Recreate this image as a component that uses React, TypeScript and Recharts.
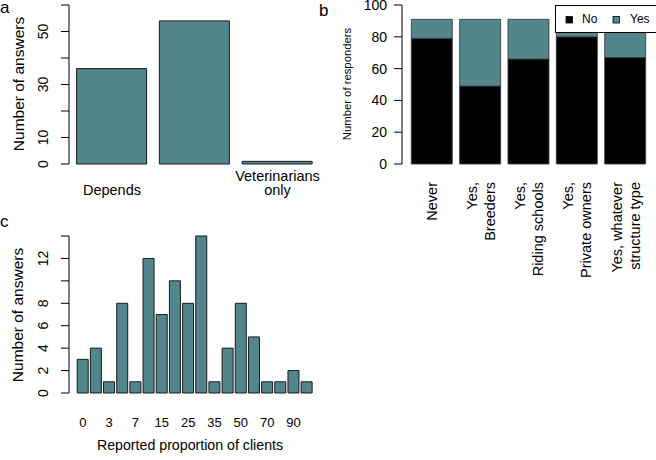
import { BarChart, Bar, XAxis, YAxis } from 'recharts';

const TEAL = '#53868B';
const FONT = '"Liberation Sans", Arial, Helvetica, sans-serif';

// panel a
const adviceCategories = ['Depends', '', 'Veterinarians\nonly'];
const adviceCounts = [36, 54, 1];
const adviceTicks = [0, 10, 20, 30, 40, 50, 60];
const adviceTickLabels = [0, 10, 30, 50];

// panel b
const structureCategories = [
  'Never',
  'Yes,\nBreeders',
  'Yes,\nRiding schools',
  'Yes,\nPrivate owners',
  'Yes, whatever\nstructure type',
];
const structureNo = [79, 49, 66, 80, 67];
const structureYes = [12, 42, 25, 11, 24];
const structureTicks = [0, 20, 40, 60, 80, 100];
const structureSeries = [
  { key: 'No', color: '#000000' },
  { key: 'Yes', color: TEAL },
];

// panel c
const proportionCategories = ['0', '1', '3', '5', '7', '10', '15', '20', '25', '30', '35', '40', '50', '60', '70', '80', '90', '100'];
const proportionCounts = [3, 4, 1, 8, 1, 12, 7, 10, 8, 14, 1, 4, 8, 5, 1, 1, 2, 1];
const proportionTicks = [0, 2, 4, 6, 8, 10, 12, 14];
const proportionTickLabels = [0, 2, 4, 6, 8, 12];

const adviceData = adviceCategories.map((name, i) => ({ name, value: adviceCounts[i] }));
const structureData = structureCategories.map((name, i) => ({ name, No: structureNo[i], Yes: structureYes[i] }));
const proportionData = proportionCategories.map((name, i) => ({ name, value: proportionCounts[i] }));

function RotatedYTick({ y, payload, labels }: any) {
  if (!labels.includes(Number(payload.value))) return null;
  return (
    <text x={43} y={y} transform={`rotate(-90 43 ${y})`} textAnchor="middle" dominantBaseline="central"
      fontSize={14} fontFamily={FONT} fill="#000">
      {payload.value}
    </text>
  );
}

function AdviceXTick({ x, payload }: any) {
  const lines = String(payload.value).split('\n');
  return (
    <g>
      {lines.map((l, i) => (
        <text key={i} x={x} y={195 - (lines.length - 1 - i) * 14.5} textAnchor="middle"
          fontSize={14.5} fontFamily={FONT} fill="#000">
          {l}
        </text>
      ))}
    </g>
  );
}

function StructureXTick({ x, payload }: any) {
  const lines = String(payload.value).split('\n');
  return (
    <g>
      {lines.map((l, i) => {
        const lx = x + (i - (lines.length - 1) / 2) * 18 + 1;
        return (
          <text key={i} x={lx} y={182} transform={`rotate(-90 ${lx} 182)`} textAnchor="end"
            dominantBaseline="central" fontSize={14.5} fontFamily={FONT} fill="#000">
            {l}
          </text>
        );
      })}
    </g>
  );
}

function ProportionXTick({ x, payload }: any) {
  return (
    <text x={x} y={202} textAnchor="middle" fontSize={13} fontFamily={FONT} fill="#000">
      {payload.value}
    </text>
  );
}

export default function App() {
  return (
    <div style={{ position: 'absolute', left: 0, top: 0, width: 656, height: 460, overflow: 'hidden', background: '#fff' }}>
      <div style={{ position: 'absolute', left: 0, top: 0 }}>
        <BarChart width={320} height={210} data={adviceData} margin={{ top: 5, right: 0, bottom: 0, left: 0 }}>
          <XAxis dataKey="name" axisLine={false} tickLine={false} height={46} padding={{ left: 1.6, right: 1.1 }}
            interval={0} tick={<AdviceXTick />} />
          <YAxis width={69} domain={[0, 60]} ticks={adviceTicks} interval={0} tickSize={8} stroke="#000"
            tick={<RotatedYTick labels={adviceTickLabels} />} />
          <Bar dataKey="value" fill={TEAL} stroke="#1a1a1a" strokeWidth={1} barSize={70} isAnimationActive={false} />
        </BarChart>
      </div>

      <div style={{ position: 'absolute', left: 320, top: 0 }}>
        <BarChart width={336} height={290} data={structureData} margin={{ top: 5, right: 2, bottom: 0, left: 0 }}>
          <XAxis dataKey="name" axisLine={false} tickLine={false} height={126} padding={{ left: 5.3, right: 5 }}
            interval={0} tick={<StructureXTick />} />
          <YAxis width={82} domain={[0, 100]} ticks={structureTicks} interval={0} tickSize={8} tickMargin={7} stroke="#000"
            tick={{ fill: '#000', fontSize: 14, fontFamily: FONT }} />
          {structureSeries.map((s) => (
            <Bar key={s.key} dataKey={s.key} stackId="s" fill={s.color} stroke="#333" strokeWidth={0.8}
              barSize={41} isAnimationActive={false} />
          ))}
        </BarChart>
      </div>

      <div style={{ position: 'absolute', left: 0, top: 225 }}>
        <BarChart width={330} height={235} data={proportionData} margin={{ top: 11, right: 10, bottom: 0, left: 0 }}>
          <XAxis dataKey="name" axisLine={false} tickLine={false} height={67} padding={{ left: 7.2, right: 6.7 }}
            interval={1} tick={<ProportionXTick />} />
          <YAxis width={69} domain={[0, 14]} ticks={proportionTicks} interval={0} tickSize={8} stroke="#000"
            tick={<RotatedYTick labels={proportionTickLabels} />} />
          <Bar dataKey="value" fill={TEAL} stroke="#1a1a1a" strokeWidth={1} barSize={11} isAnimationActive={false} />
        </BarChart>
      </div>

      <svg width={656} height={460} style={{ position: 'absolute', left: 0, top: 0, pointerEvents: 'none' }}
        fontFamily={FONT}>
        <text x={0} y={13} fontSize={17}>a</text>
        <text x={319} y={16} fontSize={17}>b</text>
        <text x={0} y={227} fontSize={17}>c</text>

        <text x={18} y={84} transform="rotate(-90 18 84)" textAnchor="middle" dominantBaseline="central" fontSize={15.5}>
          Number of answers
        </text>
        <text x={17.5} y={315} transform="rotate(-90 17.5 315)" textAnchor="middle" dominantBaseline="central" fontSize={15.5}>
          Number of answers
        </text>
        <text x={190} y={450} textAnchor="middle" fontSize={14.2}>Reported proportion of clients</text>
        <text x={347} y={84} transform="rotate(-90 347 84)" textAnchor="middle" dominantBaseline="central" fontSize={11.3}>
          Number of responders
        </text>

        <rect x={555.5} y={5.5} width={120} height={27} fill="#fff" stroke="#000" strokeWidth={1} />
        {structureSeries.map((s, i) => (
          <g key={s.key}>
            <rect x={566 + i * 47} y={16.5} width={6.5} height={6.5} fill={s.color} stroke="#000" strokeWidth={0.8} />
            <text x={582 + i * 48} y={23} fontSize={12}>{s.key}</text>
          </g>
        ))}
      </svg>
    </div>
  );
}
